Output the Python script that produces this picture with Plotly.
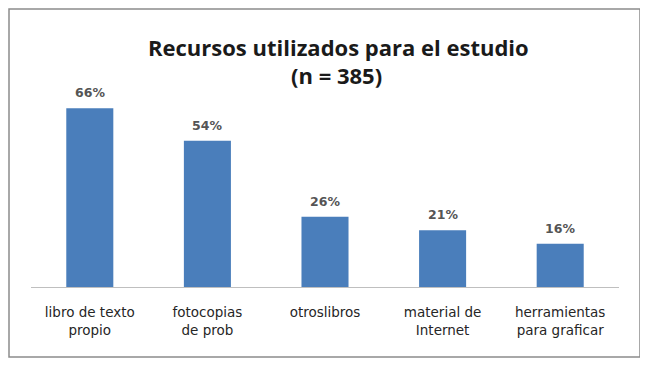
import plotly.graph_objects as go

categories = ["libro de texto<br>propio", "fotocopias<br>de prob", "otroslibros",
              "material de<br>Internet", "herramientas<br>para graficar"]
values = [66, 54, 26, 21, 16]
labels = [f"{v}%" for v in values]
title_lines = ["Recursos utilizados para el estudio", "(n = 385)"]

# page has an 8px body margin, so the figure is sized and placed to compensate
W, H = 640, 357
L, R, T, B = 23, 29, 76, 78
pw, ph = W - L - R, H - T - B

def px_x(x):
    return (x - L) / pw

def px_y(y):
    return (H - B - y) / ph

fig = go.Figure(go.Bar(
    x=categories, y=values,
    marker=dict(color="#4a7ebb", line=dict(width=0)),
    width=0.4,
))

annotations = [dict(x=c, y=v, text=t, xref="x", yref="y", showarrow=False,
                    yanchor="bottom", yshift=6,
                    font=dict(family="DejaVu Sans", size=12.5, color="#555555", weight="bold"))
               for c, v, t in zip(categories, values, labels)]
title_font = dict(family="Open Sans", size=22, color="#1a1a1a", weight=700)
annotations += [
    dict(x=px_x(330), y=px_y(39), xref="paper", yref="paper", text=title_lines[0],
         showarrow=False, xanchor="center", yanchor="middle", font=title_font),
    dict(x=px_x(328), y=px_y(67), xref="paper", yref="paper", text=title_lines[1],
         showarrow=False, xanchor="center", yanchor="middle", font=title_font),
]

fig.update_layout(
    width=W, height=H,
    margin=dict(l=L, r=R, t=T, b=B),
    paper_bgcolor="white", plot_bgcolor="white",
    showlegend=False,
    annotations=annotations,
    xaxis=dict(showline=True, linecolor="#bfbfbf", linewidth=1, ticks="",
               tickfont=dict(family="DejaVu Sans", size=13.5, color="#262626"),
               ticklabelstandoff=13, showgrid=False),
    yaxis=dict(range=[0, 75], visible=False, showgrid=False),
    shapes=[dict(type="rect", xref="paper", yref="paper",
                 x0=px_x(1), x1=px_x(632), y0=px_y(349), y1=px_y(1),
                 line=dict(color="#8c8c8c", width=1.5), fillcolor="rgba(0,0,0,0)",
                 layer="below")],
)

fig.write_html("out.html")
